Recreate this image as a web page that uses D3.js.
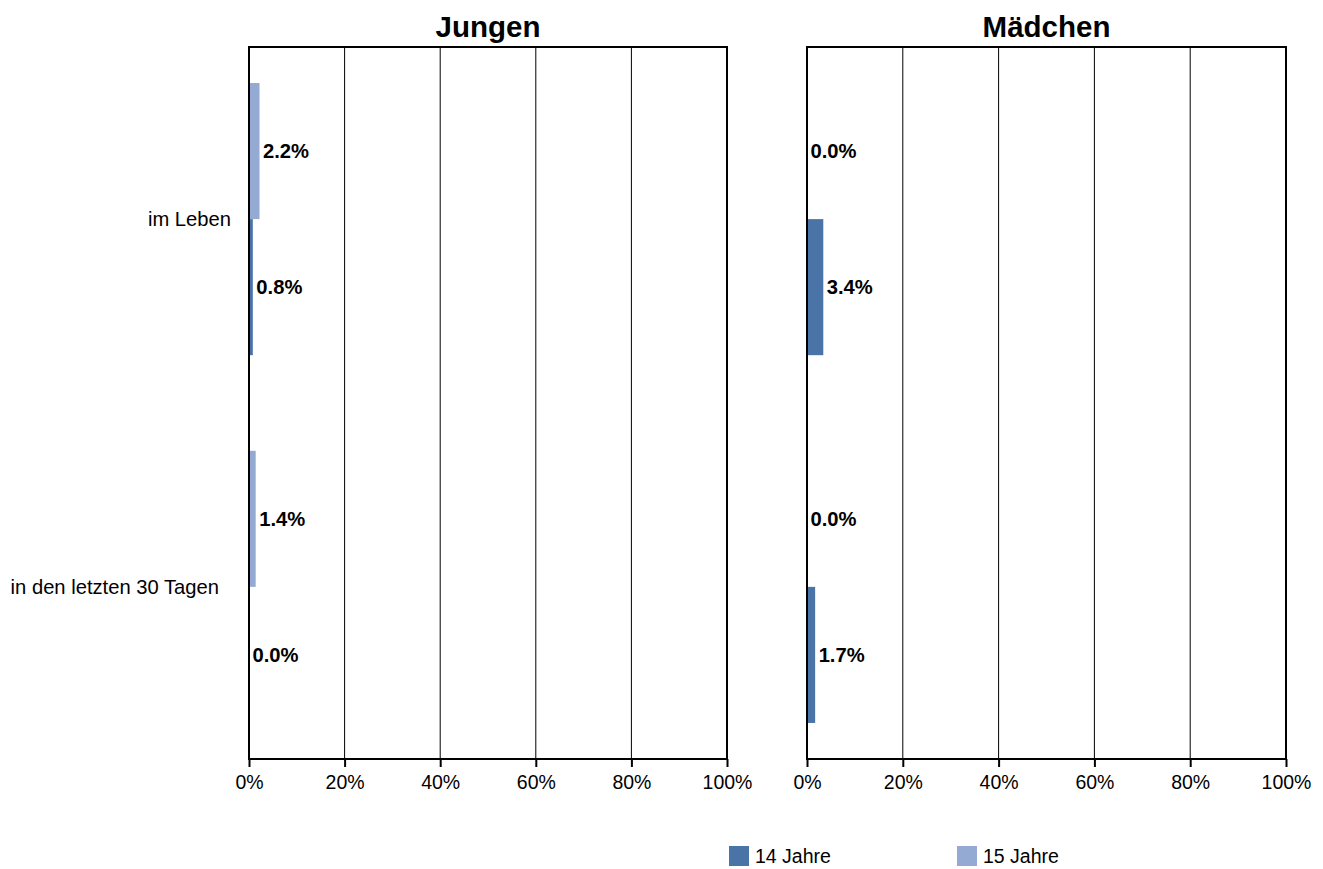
<!DOCTYPE html>
<html>
<head>
<meta charset="utf-8">
<script src="https://cdn.jsdelivr.net/npm/d3@7"></script>
<style>
  body { margin: 0; background: #fff; }
  svg text { font-family: "Liberation Sans", Arial, sans-serif; fill: #000; }
</style>
</head>
<body>
<svg id="chart" width="1323" height="869"></svg>
<script>
// data
var categories = ['im Leben', 'in den letzten 30 Tagen'];
var series = ['15 Jahre', '14 Jahre'];           // top to bottom inside a group
var legendOrder = ['14 Jahre', '15 Jahre'];
var panels = ['Jungen', 'Mädchen'];
var jungen15 = [2.2, 1.4];
var jungen14 = [0.8, 0.0];
var maedchen15 = [0.0, 0.0];
var maedchen14 = [3.4, 1.7];
var ticks = [0, 20, 40, 60, 80, 100];

var colors = { '14 Jahre': '#4a73a7', '15 Jahre': '#95aad2' };
var panelData = {
  'Jungen': { '15 Jahre': jungen15, '14 Jahre': jungen14 },
  'Mädchen': { '15 Jahre': maedchen15, '14 Jahre': maedchen14 }
};

var svg = d3.select('#chart');
var plotTop = 47, plotBottom = 759;
var fontSize = '19.5px';
var labelSize = '20.2px';
var panelRanges = { 'Jungen': [249, 727], 'Mädchen': [807, 1286] };

var y = d3.scaleBand()
  .domain(categories)
  .range([plotTop, plotBottom])
  .paddingInner(0.26)
  .paddingOuter(0.098);

var ySub = d3.scaleBand()
  .domain(series)
  .range([0, y.bandwidth()]);

// category labels (right edge differs slightly like the original)
var labelRight = [231, 219];
svg.selectAll('text.cat')
  .data(categories)
  .enter()
  .append('text')
  .attr('class', 'cat')
  .attr('x', function(d, i) { return labelRight[i]; })
  .attr('y', function(d) { return y(d) + y.bandwidth() / 2; })
  .attr('dy', '0.35em')
  .attr('text-anchor', 'end')
  .style('font-size', labelSize)
  .text(function(d) { return d; });

panels.forEach(function(panel) {
  var x = d3.scaleLinear().domain([0, 100]).range(panelRanges[panel]);
  var g = svg.append('g').attr('class', 'panel');

  // title
  g.append('text')
    .attr('x', (x(0) + x(100)) / 2)
    .attr('y', 37)
    .attr('text-anchor', 'middle')
    .style('font-size', '29.5px')
    .style('font-weight', 'bold')
    .text(panel);

  // grid lines
  g.selectAll('line.grid')
    .data(ticks.slice(1, -1))
    .enter()
    .append('line')
    .attr('class', 'grid')
    .attr('x1', function(d) { return x(d); })
    .attr('x2', function(d) { return x(d); })
    .attr('y1', plotTop)
    .attr('y2', plotBottom)
    .attr('stroke', '#000')
    .attr('stroke-width', 1);

  // bars
  categories.forEach(function(cat, ci) {
    series.forEach(function(s) {
      var v = panelData[panel][s][ci];
      var yy = y(cat) + ySub(s);
      g.append('rect')
        .attr('x', x(0))
        .attr('y', yy)
        .attr('width', x(v) - x(0))
        .attr('height', ySub.bandwidth())
        .attr('fill', colors[s]);
      g.append('text')
        .attr('x', x(v) + 3.5)
        .attr('y', yy + ySub.bandwidth() / 2)
        .attr('dy', '0.35em')
        .style('font-size', labelSize)
        .style('font-weight', 'bold')
        .text(v.toFixed(1) + '%');
    });
  });

  // frame
  g.append('rect')
    .attr('x', x(0))
    .attr('y', plotTop)
    .attr('width', x(100) - x(0))
    .attr('height', plotBottom - plotTop)
    .attr('fill', 'none')
    .attr('stroke', '#000')
    .attr('stroke-width', 2);

  // x axis
  var axis = d3.axisBottom(x)
    .tickValues(ticks)
    .tickSize(8)
    .tickPadding(8)
    .tickFormat(function(d) { return d + '%'; });
  var ax = g.append('g')
    .attr('transform', 'translate(0,' + plotBottom + ')')
    .call(axis);
  ax.select('.domain').remove();
  ax.selectAll('.tick line').attr('stroke', '#000').attr('stroke-width', 2);
  ax.selectAll('.tick text')
    .style('font-size', fontSize)
    .style('font-family', '"Liberation Sans", Arial, sans-serif')
    .attr('fill', '#000');
});

// legend
var legendX = d3.scalePoint().domain(legendOrder).range([729, 957]);
var lg = svg.selectAll('g.legend')
  .data(legendOrder)
  .enter()
  .append('g')
  .attr('class', 'legend')
  .attr('transform', function(d) { return 'translate(' + legendX(d) + ',846)'; });
lg.append('rect')
  .attr('width', 20)
  .attr('height', 20)
  .attr('fill', function(d) { return colors[d]; });
lg.append('text')
  .attr('x', 26)
  .attr('y', 10)
  .attr('dy', '0.35em')
  .style('font-size', fontSize)
  .text(function(d) { return d; });
</script>
</body>
</html>
